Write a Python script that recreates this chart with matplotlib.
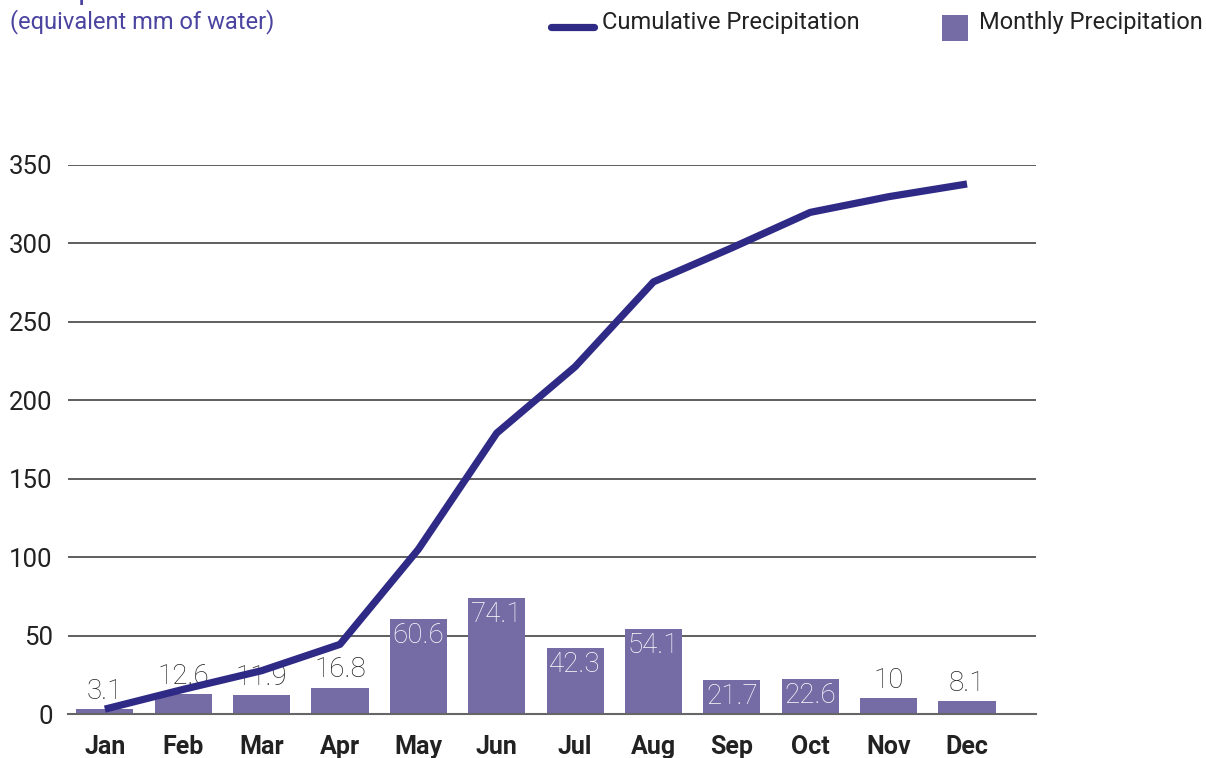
import matplotlib
matplotlib.use("Agg")
import matplotlib.pyplot as plt
from matplotlib.lines import Line2D
from matplotlib.patches import Rectangle
import numpy as np

months = ["Jan", "Feb", "Mar", "Apr", "May", "Jun", "Jul", "Aug", "Sep", "Oct", "Nov", "Dec"]
monthly = [3.1, 12.6, 11.9, 16.8, 60.6, 74.1, 42.3, 54.1, 21.7, 22.6, 10, 8.1]
cumulative = np.cumsum(monthly)
yticks = [0, 50, 100, 150, 200, 250, 300, 350]

BAR = "#756ba5"
LINE = "#2e2a85"
TEXT = "#222222"
TITLE = "#4a44a0"

W, H = 1206, 758
plt.rcParams["font.family"] = ["Roboto", "DejaVu Sans"]

fig = plt.figure(figsize=(W / 100, H / 100), dpi=100)
ax = fig.add_axes([68 / W, 1 - 714 / H, (1036 - 68) / W, (714 - 165) / H])

x = np.arange(len(months))
ax.bar(x, monthly, width=0.73, color=BAR, zorder=2)
ax.plot(x, cumulative, color=LINE, lw=5.2, solid_capstyle="butt", zorder=4)

# value labels: white inside tall bars, dark above short ones
for xi, v in zip(x, monthly):
    label = f"{v:g}"
    if v >= 20:
        ax.annotate(label, (xi, v), xytext=(0, -17.5), textcoords="offset points",
                    ha="center", va="baseline", color="white", fontsize=20,
                    fontweight="light", zorder=5)
    else:
        ax.annotate(label, (xi, v), xytext=(0, 7.5), textcoords="offset points",
                    ha="center", va="baseline", color=TEXT, fontsize=20,
                    fontweight="light", zorder=3)

ax.set_xlim(-0.47, 11.88)
ax.set_ylim(0, 350)
ax.set_yticks(yticks)
ax.set_xticks(x)
ax.set_xticklabels(months, fontsize=18, fontweight="bold", color=TEXT)
ax.tick_params(axis="y", length=0, pad=11, labelsize=18.5, labelcolor=TEXT)
ax.tick_params(axis="x", length=0, pad=15)
ax.grid(axis="y", color="#333333", lw=1.1, zorder=1)
for s in ["left", "right", "top"]:
    ax.spines[s].set_visible(False)
ax.spines["bottom"].set_color("#666666")
ax.spines["bottom"].set_linewidth(1.5)

# heading (runs off the top edge) and units line
fig.text(10 / W, 1 + 1 / H, "Precipitation", fontsize=22, color=TITLE,
         ha="left", va="baseline")
fig.text(10 / W, 1 - 22 / H, "(equivalent mm of water)", fontsize=17,
         color=TITLE, ha="left", va="center")

# legend drawn in figure pixels
fig.add_artist(Line2D([551 / W, 594 / W], [1 - 27 / H, 1 - 27 / H],
                      transform=fig.transFigure, color=LINE, lw=5.2,
                      solid_capstyle="round"))
fig.text(602 / W, 1 - 22 / H, "Cumulative Precipitation", fontsize=17,
         color=TEXT, ha="left", va="center")
fig.add_artist(Rectangle((942 / W, 1 - 41 / H), 26 / W, 26 / H,
                         transform=fig.transFigure, color=BAR, lw=0))
fig.text(979 / W, 1 - 22 / H, "Monthly Precipitation", fontsize=17,
         color=TEXT, ha="left", va="center")

fig.savefig("out.png", dpi=100)
